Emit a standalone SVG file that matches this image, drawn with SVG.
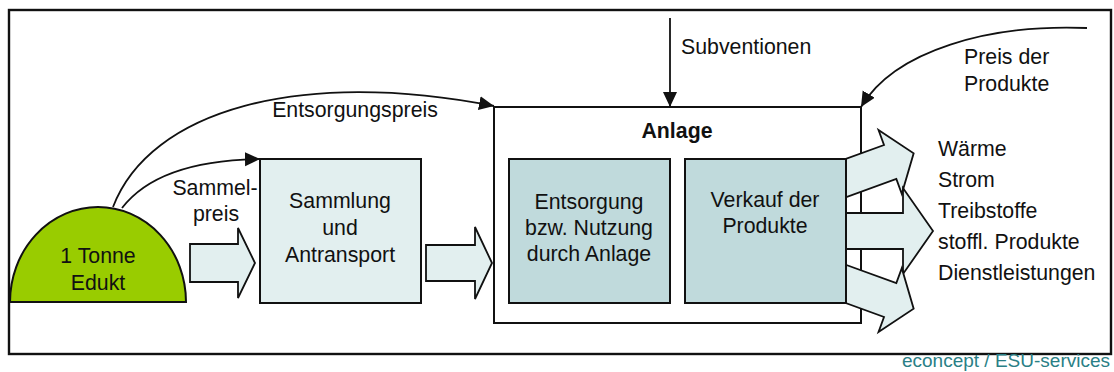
<svg xmlns="http://www.w3.org/2000/svg" width="1114" height="372" viewBox="0 0 1114 372">
  <style>
    text { font-family: "Liberation Sans", Arial, sans-serif; font-size: 21.3px; fill: #111; }
    .c { text-anchor: middle; }
    .b { font-weight: bold; }
    .box { stroke: #111; stroke-width: 2; }
    .light { fill: #E2EFEF; }
    .dark { fill: #C0DADC; }
    .flow { fill: #E2EFEF; stroke: #111; stroke-width: 1.8; stroke-linejoin: miter; }
    .link { fill: none; stroke: #111; stroke-width: 1.8; marker-end: url(#head); }
    .credit { fill: #2A7F86; font-size: 19px; text-anchor: end; }
  </style>
  <defs>
    <marker id="head" markerUnits="userSpaceOnUse" markerWidth="16" markerHeight="16" refX="15" refY="7" orient="auto">
      <path d="M0,0 L15,7 L0,14 Z" fill="#111"/>
    </marker>
  </defs>

  <rect width="1114" height="372" fill="#fff"/>
  <!-- outer frame -->
  <rect x="9" y="10" width="1102" height="344" fill="none" stroke="#111" stroke-width="2.4"/>

  <!-- input material -->
  <g id="edukt">
    <path d="M10,302 A88,95 0 0 1 186,302 Z" fill="#99CC00" stroke="#111" stroke-width="2"/>
    <text class="c" x="98" y="263">1 Tonne</text>
    <text class="c" x="98" y="290">Edukt</text>
  </g>

  <g id="sammlung">
    <rect class="box light" x="260" y="159" width="161" height="144"/>
    <text class="c" x="340" y="208">Sammlung</text>
    <text class="c" x="340" y="235">und</text>
    <text class="c" x="340" y="262">Antransport</text>
  </g>

  <g id="anlage">
    <rect class="box" x="494" y="107" width="367" height="216" fill="#fff"/>
    <text class="c b" x="677" y="138">Anlage</text>
  </g>

  <!-- product outflows -->
  <g id="outputs">
    <polygon class="flow" transform="translate(846,178) rotate(-20)" points="-12,-18 47,-18 47,-34 72,0 47,34 47,18 -12,18"/>
    <polygon class="flow" transform="translate(846,231)" points="-12,-18 57,-18 57,-43 87,0 57,43 57,18 -12,18"/>
    <polygon class="flow" transform="translate(846,284) rotate(20)" points="-12,-18 47,-18 47,-34 72,0 47,34 47,18 -12,18"/>
  </g>

  <g id="entsorgung">
    <rect class="box dark" x="509" y="159" width="161" height="144"/>
    <text class="c" x="589" y="209">Entsorgung</text>
    <text class="c" x="589" y="235">bzw. Nutzung</text>
    <text class="c" x="589" y="261">durch Anlage</text>
  </g>

  <g id="verkauf">
    <rect class="box dark" x="685" y="159" width="161" height="144"/>
    <text class="c" x="765" y="207">Verkauf der</text>
    <text class="c" x="765" y="233">Produkte</text>
  </g>

  <g id="produkte">
    <text x="938" y="156">Wärme</text>
    <text x="938" y="187">Strom</text>
    <text x="938" y="218">Treibstoffe</text>
    <text x="938" y="249">stoffl. Produkte</text>
    <text x="938" y="280">Dienstleistungen</text>
  </g>

  <!-- material flow and money flows -->
  <g id="connectors">
    <polygon class="flow" points="190,244 238,244 238,228 255,263 238,298 238,282 190,282"/>
    <polygon class="flow" points="426,245 475,245 475,227 492,263 475,299 475,281 426,281"/>
    <path class="link" d="M113,207 C150,110 300,68 494,106"/>
    <path class="link" d="M122,208 C145,178 190,160 260,159"/>
    <path class="link" d="M670,18 L670,107"/>
    <path class="link" d="M1087,28 C990,24 895,50 861,107"/>
    <text class="c" x="355" y="117">Entsorgungspreis</text>
    <text class="c" x="215" y="195">Sammel-</text>
    <text class="c" x="216" y="221">preis</text>
    <text x="681" y="54">Subventionen</text>
    <text x="964" y="64">Preis der</text>
    <text x="964" y="91">Produkte</text>
  </g>

  <text class="credit" x="1110" y="367">econcept / ESU-services</text>
</svg>
